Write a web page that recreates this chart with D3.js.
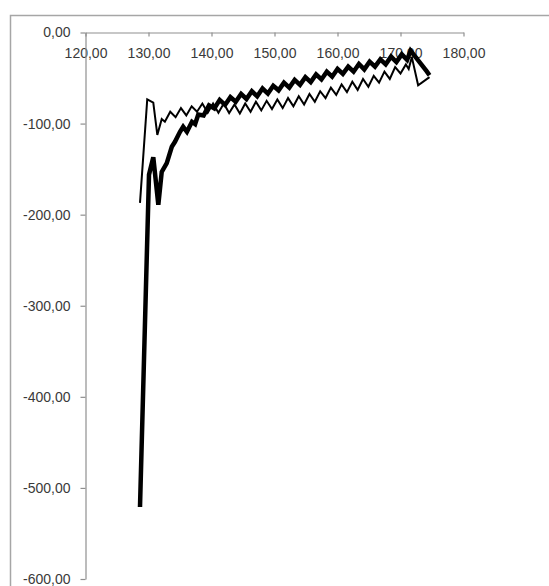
<!DOCTYPE html>
<html>
<head>
<meta charset="utf-8">
<script src="https://cdn.jsdelivr.net/npm/d3@7"></script>
<style>
  html, body { margin: 0; padding: 0; background: #fff; }
  svg { display: block; }
</style>
</head>
<body>
<svg id="chart" width="549" height="586"></svg>
<script>
// ---- data ----
const xTicks = [120, 130, 140, 150, 160, 170, 180];
const yTicks = [0, -100, -200, -300, -400, -500, -600];

const thinX = [128.65, 129.8, 130.76, 131.4, 132.1, 132.6, 133.45, 134.3, 135.15, 136.0, 136.85, 137.7, 138.55, 139.4, 140.25, 141.1, 141.95, 142.8, 143.65, 144.5, 145.35, 146.2, 147.05, 147.9, 148.75, 149.6, 150.45, 151.3, 152.15, 153.0, 153.85, 154.7, 155.55, 156.4, 157.25, 158.1, 158.95, 159.8, 160.65, 161.5, 162.35, 163.2, 164.05, 164.9, 165.75, 166.6, 167.45, 168.3, 169.15, 170.0, 170.85, 171.3, 171.8, 172.8, 174.6];
const thinY = [-187, -73.5, -77, -112.5, -95, -98, -87, -93, -83, -91, -81, -87, -78, -88, -78, -88, -78, -88.5, -79, -89, -78, -87, -76, -85.5, -75, -84, -73.5, -83, -72, -81, -70, -79, -67.5, -76, -64.5, -72, -60.5, -68.5, -57, -65.5, -54, -63, -51, -59.5, -47.5, -55, -43, -51, -38, -45, -35, -40, -27, -58, -49];

const thickX = [128.65, 130.08, 130.76, 131.56, 132.1, 132.9, 133.7, 134.2, 135.0, 135.5, 136.1, 136.9, 137.4, 137.9, 138.75, 139.6, 140.45, 141.3, 142.15, 143.0, 143.85, 144.7, 145.55, 146.4, 147.25, 148.1, 148.95, 149.8, 150.65, 151.5, 152.35, 153.2, 154.05, 154.9, 155.75, 156.6, 157.45, 158.3, 159.15, 160.0, 160.85, 161.7, 162.55, 163.4, 164.25, 165.1, 165.95, 166.8, 167.65, 168.5, 169.35, 170.2, 171.05, 171.6, 174.2, 174.6];
const thickY = [-521, -156, -137, -189, -153, -143.5, -125.5, -120, -109, -103.5, -109, -98, -100.5, -90, -91, -80, -83.5, -74, -79.5, -71, -76, -67.5, -73, -64.5, -70, -61.5, -67, -58.5, -63.5, -55, -60.5, -52, -57.5, -49, -54.5, -46, -51.5, -43, -48.5, -40, -45.5, -37.5, -43, -34.5, -40.5, -32, -37.5, -29.5, -35, -26.5, -32.5, -24, -30, -20, -43, -47];

// ---- chart ----
const svg = d3.select("#chart");
const fmt = v => v.toFixed(2).replace(".", ",");

// outer frame
svg.append("rect")
  .attr("x", 10.5).attr("y", 15.5)
  .attr("width", 560).attr("height", 600)
  .attr("fill", "none").attr("stroke", "#a6a6a6").attr("stroke-width", 1.5);

const x = d3.scaleLinear().domain([120, 180]).range([85.5, 463.5]);
const y = d3.scaleLinear().domain([0, -600]).range([32.5, 579]);

const axisColor = "#8f8f8f";
const font = "'Liberation Sans', Arial, Helvetica, sans-serif";

// x axis at y=0 (ticks pointing down, labels below)
const gx = svg.append("g").attr("transform", `translate(0,${y(0)})`)
  .call(d3.axisBottom(x).tickValues(xTicks).tickSize(4).tickSizeOuter(0).tickPadding(12).tickFormat(fmt));
// y axis
const gy = svg.append("g").attr("transform", `translate(${x(120)},0)`)
  .call(d3.axisLeft(y).tickValues(yTicks).tickSize(5).tickSizeOuter(0).tickPadding(10).tickFormat(fmt));

[gx, gy].forEach(g => {
  g.select(".domain").attr("stroke", axisColor).attr("stroke-width", 1.2);
  g.selectAll(".tick line").attr("stroke", axisColor).attr("stroke-width", 1.2);
  g.selectAll(".tick text").attr("fill", "#3a3a3a")
    .style("font-family", font).style("font-size", "14px");
});

const line = d3.line().x(d => x(d[0])).y(d => y(d[1]));
const thin = thinX.map((v, i) => [v, thinY[i]]);
const thick = thickX.map((v, i) => [v, thickY[i]]);

svg.append("path").datum(thin).attr("d", line)
  .attr("fill", "none").attr("stroke", "#000").attr("stroke-width", 2)
  .attr("stroke-linejoin", "miter").attr("stroke-miterlimit", 3);
svg.append("path").datum(thick).attr("d", line)
  .attr("fill", "none").attr("stroke", "#000").attr("stroke-width", 4.5)
  .attr("stroke-linejoin", "miter").attr("stroke-miterlimit", 3);
</script>
</body>
</html>
